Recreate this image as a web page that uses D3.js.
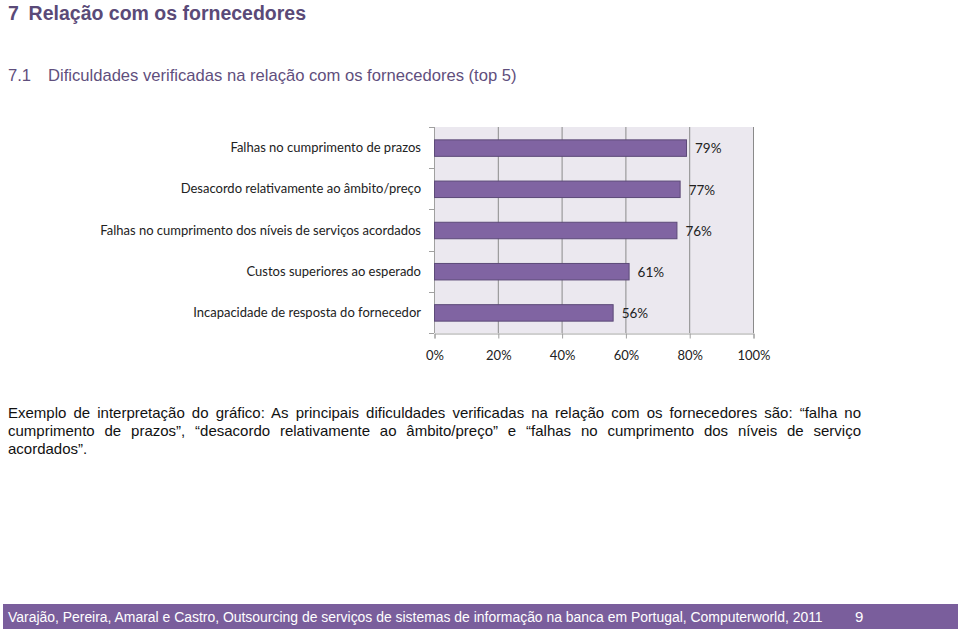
<!DOCTYPE html>
<html>
<head>
<meta charset="utf-8">
<script src="https://cdn.jsdelivr.net/npm/d3@7"></script>
<style>
  body { margin: 0; background: #fff; }
  #page { position: relative; width: 960px; height: 629px; overflow: hidden; }
  #page svg { position: absolute; left: 0; top: 0; }
  .para { position: absolute; left: 8px; width: 853px; top: 404px;
    font-family: "Liberation Sans", Arial, sans-serif; font-size: 15px; line-height: 18px;
    text-align: justify; color: #111; }
</style>
</head>
<body>
<div id="page"></div>
<script>
const categories = [
  'Falhas no cumprimento de prazos',
  'Desacordo relativamente ao âmbito/preço',
  'Falhas no cumprimento dos níveis de serviços acordados',
  'Custos superiores ao esperado',
  'Incapacidade de resposta do fornecedor'
];
const values = [79, 77, 76, 61, 56];
const xTicks = [0, 20, 40, 60, 80, 100];

const title = '7\u2002Relação com os fornecedores';
const subNum = '7.1';
const subTitle = 'Dificuldades verificadas na relação com os fornecedores (top 5)';
const paragraph = 'Exemplo de interpretação do gráfico: As principais dificuldades verificadas na relação com os fornecedores são: \u201cfalha no cumprimento de prazos\u201d, \u201cdesacordo relativamente ao âmbito/preço\u201d e \u201cfalhas no cumprimento dos níveis de serviço acordados\u201d.';
const footer = 'Varajão, Pereira, Amaral e Castro, Outsourcing de serviços de sistemas de informação na banca em Portugal, Computerworld, 2011';
const pageNo = '9';

const page = d3.select('#page');
const svg = page.append('svg').attr('width', 960).attr('height', 629);

// headings
svg.append('text')
  .attr('x', 8).attr('y', 20)
  .style('font-family', '"Liberation Sans", Arial, sans-serif')
  .style('font-size', '19.5px').style('font-weight', 'bold')
  .attr('fill', '#5a4a78')
  .text(title);

const sub = svg.append('g')
  .style('font-family', '"Liberation Sans", Arial, sans-serif')
  .style('font-size', '16.6px')
  .attr('fill', '#5f4f7d');
sub.append('text').attr('x', 8).attr('y', 81).text(subNum);
sub.append('text').attr('x', 48).attr('y', 81).text(subTitle);

// chart
const plot = { left: 434, right: 753, top: 127, bottom: 333 };

const x = d3.scaleLinear().domain([0, 100]).range([plot.left, plot.right]);
const y = d3.scaleBand().domain(categories).range([plot.top, plot.bottom]).paddingInner(0.6).paddingOuter(0.3);

const chart = svg.append('g');

chart.append('rect')
  .attr('x', plot.left).attr('y', plot.top)
  .attr('width', plot.right - plot.left).attr('height', plot.bottom - plot.top)
  .attr('fill', '#ebe8ef');

chart.selectAll('line.grid')
  .data(xTicks.slice(1))
  .enter()
  .append('line')
  .attr('class', 'grid')
  .attr('x1', d => x(d) + 0.5).attr('x2', d => x(d) + 0.5)
  .attr('y1', plot.top).attr('y2', plot.bottom)
  .attr('stroke', '#8a8a8a').attr('stroke-width', 1);

// x axis
const xAxis = chart.append('g')
  .attr('transform', `translate(0.5,${plot.bottom + 0.5})`)
  .call(d3.axisBottom(x).tickValues(xTicks).tickSize(5).tickPadding(12).tickFormat(d => d + '%'));
xAxis.select('.domain').attr('stroke', '#a0a0a0');
xAxis.selectAll('.tick line').attr('stroke', '#a0a0a0');
xAxis.selectAll('text')
  .style('font-family', 'Lato, "Open Sans", sans-serif')
  .style('font-size', '13px')
  .attr('fill', '#222');

// y axis: ticks at band boundaries
const bounds = d3.range(categories.length + 1).map(i => plot.top + i * (plot.bottom - plot.top) / categories.length);
chart.append('line')
  .attr('x1', plot.left + 0.5).attr('x2', plot.left + 0.5)
  .attr('y1', plot.top).attr('y2', plot.bottom)
  .attr('stroke', '#a0a0a0');
chart.selectAll('line.ytick')
  .data(bounds)
  .enter()
  .append('line')
  .attr('class', 'ytick')
  .attr('x1', plot.left - 5).attr('x2', plot.left)
  .attr('y1', d => Math.round(d) + 0.5).attr('y2', d => Math.round(d) + 0.5)
  .attr('stroke', '#a0a0a0');

chart.selectAll('text.cat')
  .data(categories)
  .enter()
  .append('text')
  .attr('class', 'cat')
  .attr('x', plot.left - 13)
  .attr('y', d => y(d) + y.bandwidth() / 2)
  .attr('dy', '0.35em')
  .attr('text-anchor', 'end')
  .style('font-family', 'Lato, "Open Sans", sans-serif')
  .style('font-size', '13px')
  .attr('fill', '#222')
  .text(d => d);

chart.selectAll('rect.bar')
  .data(values)
  .enter()
  .append('rect')
  .attr('class', 'bar')
  .attr('x', x(0) + 0.5)
  .attr('y', (d, i) => y(categories[i]) + 0.5)
  .attr('width', d => x(d) - x(0))
  .attr('height', y.bandwidth())
  .attr('fill', '#8064a2')
  .attr('stroke', '#5c4a78')
  .attr('stroke-width', 1);

chart.selectAll('text.val')
  .data(values)
  .enter()
  .append('text')
  .attr('class', 'val')
  .attr('x', d => x(d) + 9)
  .attr('y', (d, i) => y(categories[i]) + y.bandwidth() / 2 + 1)
  .attr('dy', '0.35em')
  .style('font-family', 'Lato, "Open Sans", sans-serif')
  .style('font-size', '13.5px')
  .attr('fill', '#222')
  .text(d => d + '%');

// paragraph
page.append('div').attr('class', 'para').text(paragraph);

// footer
svg.append('rect')
  .attr('x', 3).attr('y', 604).attr('width', 955).attr('height', 25)
  .attr('fill', '#7a5e9c');
const foot = svg.append('g')
  .style('font-family', '"Liberation Sans", Arial, sans-serif')
  .style('font-size', '15px')
  .attr('fill', '#fff');
foot.append('text')
  .attr('transform', 'translate(8,622) scale(0.929,1)')
  .text(footer);
foot.append('text').attr('x', 855).attr('y', 622).text(pageNo);
</script>
</body>
</html>
